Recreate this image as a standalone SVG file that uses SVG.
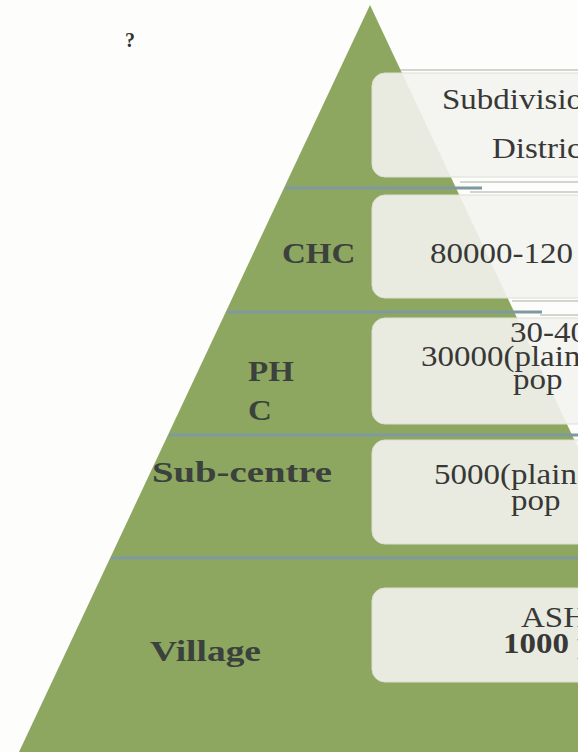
<svg xmlns="http://www.w3.org/2000/svg" width="578" height="752" viewBox="0 0 578 752">
<style>
.lbl{font-family:"Liberation Serif","Times New Roman",serif;font-weight:bold;font-size:30px;fill:#3b413d}
.txt{font-family:"Liberation Serif","Times New Roman",serif;font-size:30px;fill:#383836}
.bold{font-weight:bold}
.box{fill:#f3f3ee;fill-opacity:0.9;stroke:#dcdfd4;stroke-width:1}
.sep{stroke:#7e99a0;stroke-width:3;fill:none}
.thin{stroke:#a9ada3;stroke-width:1.2;fill:none}
</style>
<rect width="578" height="752" fill="#fdfdfb"/>
<text x="125" y="47" style="font-family:'Liberation Serif',serif;font-weight:bold;font-size:20px;fill:#333">?</text>
<g id="pyramid">
<polygon points="370,5 19,752 721,752" fill="#8ea760"/>
</g>
<g id="separators">
<line class="thin" x1="400" y1="70" x2="578" y2="70"/>
<line class="thin" x1="460" y1="182" x2="578" y2="182"/>
<line class="thin" x1="470" y1="192" x2="578" y2="192"/>
<line class="thin" x1="512" y1="301" x2="578" y2="301"/>
<line class="thin" x1="540" y1="315" x2="578" y2="315"/>
<line class="sep" x1="285" y1="188" x2="482" y2="188"/>
<line class="sep" x1="227" y1="312" x2="542" y2="312"/>
<line class="sep" x1="169" y1="435" x2="578" y2="435"/>
<line class="sep" x1="111" y1="558" x2="578" y2="558"/>
</g>
<g id="layer-district">
<rect class="box" x="372" y="73" width="240" height="104" rx="13"/>
<text class="txt" transform="translate(442,109) scale(1.1,1)">Subdivisio</text>
<text class="txt" transform="translate(492,158) scale(1.1,1)">Distric</text>
</g>
<g id="layer-chc">
<rect class="box" x="372" y="195" width="240" height="103" rx="13"/>
<text class="lbl" transform="translate(282,263) scale(1.1,1)">CHC</text>
<text class="txt" transform="translate(430,263) scale(1.1,1)">80000-120</text>
</g>
<g id="layer-phc">
<rect class="box" x="372" y="318" width="240" height="106" rx="13"/>
<text class="lbl" transform="translate(248,381) scale(1.1,1)">PH</text>
<text class="lbl" transform="translate(248,420) scale(1.1,1)">C</text>
<text class="txt" transform="translate(510,342) scale(1.1,1)">30-40</text>
<text class="txt" transform="translate(421,366) scale(1.1,1)">30000(plain</text>
<text class="txt" transform="translate(513,389) scale(1.1,1)">pop</text>
</g>
<g id="layer-subcentre">
<rect class="box" x="372" y="440" width="240" height="104" rx="13"/>
<text class="lbl" x="152" y="482" textLength="180" lengthAdjust="spacingAndGlyphs">Sub-centre</text>
<text class="txt" transform="translate(434,484) scale(1.1,1)">5000(plain</text>
<text class="txt" transform="translate(511,510) scale(1.1,1)">pop</text>
</g>
<g id="layer-village">
<rect class="box" x="372" y="588" width="240" height="94" rx="13"/>
<text class="lbl" x="150" y="661" textLength="111" lengthAdjust="spacingAndGlyphs">Village</text>
<text class="txt" transform="translate(521,627) scale(1.1,1)">ASH</text>
<text class="txt bold" transform="translate(503,653) scale(1.1,1)">1000 p</text>
</g>
</svg>
